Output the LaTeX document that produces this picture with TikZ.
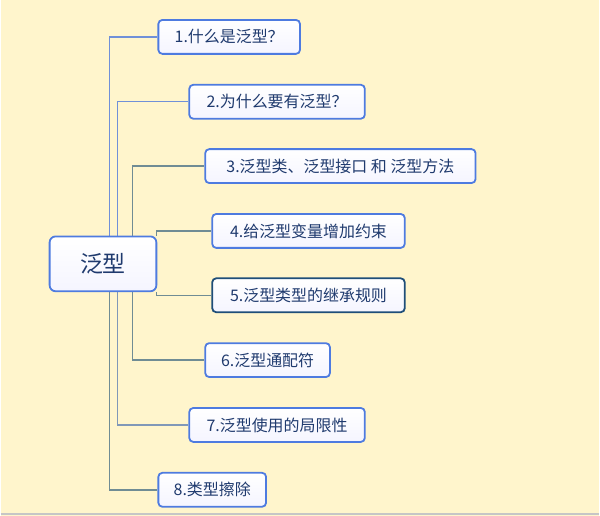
\documentclass[tikz,border=0pt]{standalone}
\usepackage{fontspec}
\newfontfamily\cjk{Noto Sans CJK SC}
\usetikzlibrary{backgrounds}
\definecolor{bg}{HTML}{FFF5CC}
\definecolor{bord}{HTML}{4E7BE0}
\definecolor{bordd}{HTML}{1F4E79}
\definecolor{txt}{HTML}{1F3A6E}
\definecolor{lblue}{HTML}{7090D8}
\definecolor{lgray}{HTML}{708C94}
\definecolor{lmid}{HTML}{8098B8}
\begin{document}
\begin{tikzpicture}[x=1pt,y=-1pt,
  topic/.style={draw=bord, line width=1.8pt, rounded corners=4pt, top color=white, bottom color=blue!4,
    text=txt, font=\cjk\fontsize{16}{19}\selectfont, minimum height=34pt, inner sep=0pt, anchor=center},
  root/.style={topic, font=\cjk\fontsize{23}{27}\selectfont, minimum height=55pt, minimum width=107pt, rounded corners=6pt},
  conn/.style={line width=1.5pt}]
\node[root] (r) at (102.5,264.5) {泛型};
\node[topic, minimum width=142pt] (n1) at (229,37) {1.什么是泛型？};
\node[topic, minimum width=176pt] (n2) at (277,102) {2.为什么要有泛型？};
\node[topic, minimum width=271pt] (n3) at (340.5,166.5) {3.泛型类、泛型接口 和 泛型方法};
\node[topic, minimum width=193pt] (n4) at (308.5,231.5) {4.给泛型变量增加约束};
\node[topic, minimum width=193pt, draw=bordd] (n5) at (308.5,296) {5.泛型类型的继承规则};
\node[topic, minimum width=125pt] (n6) at (267.5,361) {6.泛型通配符};
\node[topic, minimum width=176pt] (n7) at (277,426) {7.泛型使用的局限性};
\node[topic, minimum width=108pt] (n8) at (212,491) {8.类型擦除};
\begin{scope}[on background layer]
\fill[bg] (0,0) rectangle (600,517);
\draw[gray!45, line width=1.5pt] (0,515.5) -- (600,515.5);
\draw[conn, lblue] ([xshift=61pt]r.north west) |- (n1.west);
\draw[conn, lblue] ([xshift=69pt]r.north west) |- (n2.west);
\draw[conn, lgray] ([xshift=84pt]r.north west) |- (n3.west);
\draw[conn, lgray] ([xshift=-1pt]r.north east) |- (n4.west);
\draw[conn, lgray] ([xshift=-1pt]r.south east) |- (n5.west);
\draw[conn, lgray] ([xshift=84pt]r.south west) |- (n6.west);
\draw[conn, lmid] ([xshift=69pt]r.south west) |- (n7.west);
\draw[conn, lgray] ([xshift=61pt]r.south west) |- (n8.west);
\end{scope}
\end{tikzpicture}
\end{document}
